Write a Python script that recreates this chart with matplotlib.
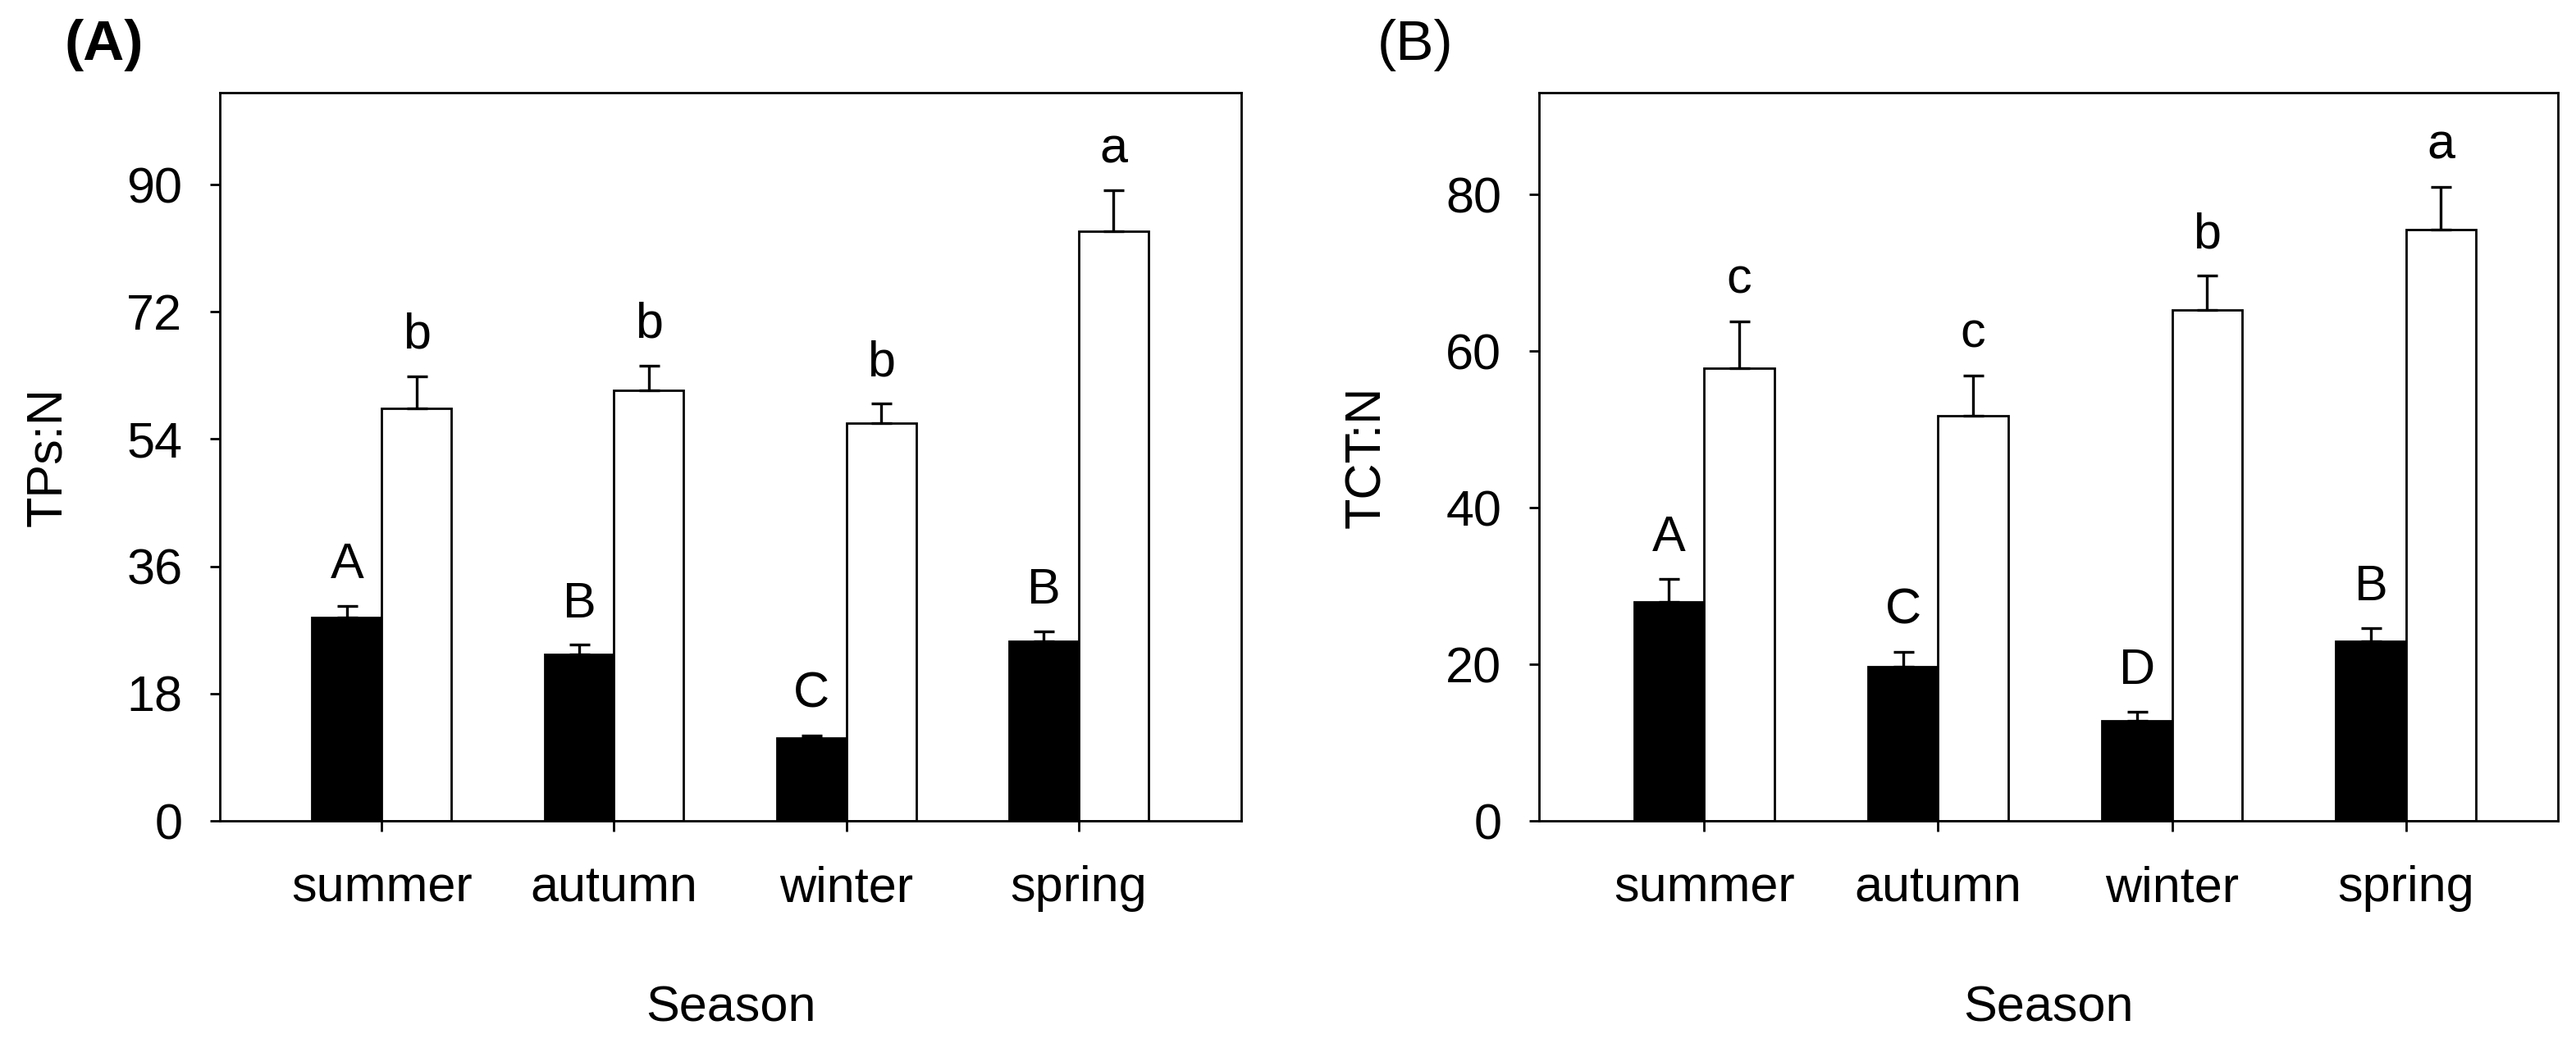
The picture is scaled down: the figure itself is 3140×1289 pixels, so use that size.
import numpy as np
import matplotlib
matplotlib.use("Agg")
import matplotlib.pyplot as plt

plt.rcParams['font.family'] = ['Liberation Sans', 'DejaVu Sans']

seasons = ["summer", "autumn", "winter", "spring"]

# panel A: TPs:N
tps_black = [28.8, 23.6, 11.7, 25.4]
tps_black_err = [1.6, 1.3, 0.4, 1.4]
tps_white = [58.3, 60.9, 56.3, 83.4]
tps_white_err = [4.6, 3.5, 2.7, 5.8]
tps_black_letters = ["A", "B", "C", "B"]
tps_white_letters = ["b", "b", "b", "a"]

# panel B: TCT:N
tct_black = [28.0, 19.7, 12.8, 22.9]
tct_black_err = [2.9, 1.9, 1.1, 1.7]
tct_white = [57.8, 51.7, 65.2, 75.5]
tct_white_err = [6.0, 5.2, 4.4, 5.5]
tct_black_letters = ["A", "C", "D", "B"]
tct_white_letters = ["c", "c", "b", "a"]

FS = 44
LW = 2.0
W = 0.30

fig = plt.figure(figsize=(31.4, 12.89), dpi=100)
axA = fig.add_axes([0.0854, 0.2234, 0.3965, 0.689])
axB = fig.add_axes([0.5975, 0.2234, 0.3955, 0.689])


def draw(ax, black, black_err, white, white_err, bl, wl, ylabel, yticks, ytop, xlim):
    x = np.arange(len(seasons))
    ax.bar(x - W, black, W, align='edge', color='black', edgecolor='black', linewidth=LW, zorder=2)
    ax.bar(x, white, W, align='edge', color='white', edgecolor='black', linewidth=LW, zorder=2)
    zeros = np.zeros(len(seasons))
    for xs, vals, errs in [(x - W / 2, black, black_err), (x + W / 2, white, white_err)]:
        ax.errorbar(xs, vals, yerr=[zeros, errs], fmt='none', ecolor='black',
                    elinewidth=LW * 1.2, capsize=9, capthick=LW * 1.2, zorder=3)
    for i in range(len(seasons)):
        ax.annotate(bl[i], (x[i] - W / 2, black[i] + black_err[i]), xytext=(0, 15),
                    textcoords='offset points', ha='center', va='bottom', fontsize=FS)
        ax.annotate(wl[i], (x[i] + W / 2, white[i] + white_err[i]), xytext=(0, 15),
                    textcoords='offset points', ha='center', va='bottom', fontsize=FS)
    ax.set_xlim(*xlim)
    ax.set_ylim(0, ytop)
    ax.set_xticks(x)
    ax.set_xticklabels(seasons)
    ax.set_yticks(yticks)
    ax.tick_params(direction='out', length=9, width=LW, labelsize=FS)
    ax.tick_params(axis='y', pad=24)
    ax.tick_params(axis='x', pad=30)
    for s in ax.spines.values():
        s.set_linewidth(LW)
    ax.set_xlabel("Season", fontsize=FS, labelpad=64)
    ax.set_ylabel(ylabel, fontsize=FS, labelpad=48)


draw(axA, tps_black, tps_black_err, tps_white, tps_white_err,
     tps_black_letters, tps_white_letters, "TPs:N", [0, 18, 36, 54, 72, 90], 103, (-0.696, 3.70))
draw(axB, tct_black, tct_black_err, tct_white, tct_white_err,
     tct_black_letters, tct_white_letters, "TCT:N", [0, 20, 40, 60, 80], 93, (-0.705, 3.65))

fig.text(78 / 3140, 1 - 55 / 1289, "(A)", fontsize=50, fontweight='bold', ha='left', va='center')
fig.text(1679 / 3140, 1 - 55 / 1289, "(B)", fontsize=50, ha='left', va='center')

fig.savefig("out.png", dpi=100, facecolor='white')
